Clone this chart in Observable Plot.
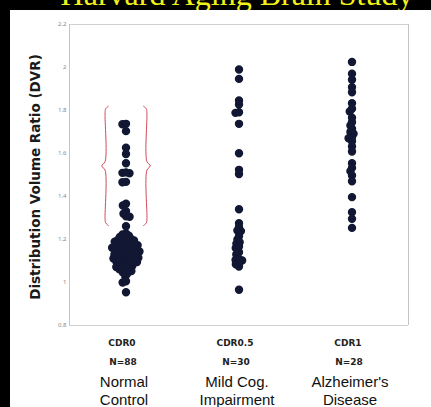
<!DOCTYPE html>
<html><head><meta charset="utf-8">
<script src="https://cdn.jsdelivr.net/npm/d3@7"></script>
<script src="https://cdn.jsdelivr.net/npm/@observablehq/plot@0.6"></script>
<style>
html,body{margin:0;padding:0;background:#000;width:431px;height:407px;overflow:hidden;}
#title{position:absolute;left:0;width:474px;text-align:center;top:-22px;font-family:"Liberation Serif",serif;font-size:32px;line-height:32px;color:#f2f21a;white-space:nowrap;}
#panel{position:absolute;left:10px;top:10px;width:421px;height:397px;background:#fff;}
#chart{position:absolute;left:0;top:0;}
</style></head><body>
<div id="title">Harvard Aging Brain Study</div>
<div id="panel"></div>
<div id="chart"></div>
<script>
const groups = ["CDR0", "CDR0.5", "CDR1"];
const nLabels = ["N=88", "N=30", "N=28"];
const names = ["Normal\nControl", "Mild Cog.\nImpairment", "Alzheimer's\nDisease"];
const yTicks = [0.8, 1, 1.2, 1.4, 1.6, 1.8, 2, 2.2];
const yTitle = "Distribution Volume Ratio (DVR)";

// CDR0 (N=88)
const cdr0 = [
  1.738, 1.736, 1.704, 1.627, 1.598, 1.555, 1.512, 1.510, 1.508, 1.468, 1.466,
  1.366, 1.358, 1.332, 1.320, 1.308, 1.306, 1.262,
  1.228, 1.223, 1.218, 1.212, 1.207, 1.204, 1.201, 1.198, 1.196,
  1.193, 1.190, 1.187, 1.185, 1.182, 1.180, 1.177, 1.175,
  1.173, 1.170, 1.168, 1.166, 1.164, 1.162, 1.159, 1.157, 1.155,
  1.153, 1.150, 1.148, 1.146, 1.144, 1.142, 1.139, 1.137, 1.135,
  1.132, 1.130, 1.127, 1.125, 1.122, 1.120, 1.118, 1.116, 1.115,
  1.112, 1.109, 1.107, 1.104, 1.102, 1.099, 1.097, 1.095,
  1.092, 1.088, 1.085, 1.082, 1.078, 1.075, 1.072, 1.068, 1.065,
  1.062, 1.057, 1.053, 1.048, 1.042, 1.028,
  1.006, 1.000, 0.955
];
// CDR0.5 (N=30)
const cdr05 = [
  1.991, 1.947, 1.847, 1.828, 1.792, 1.789, 1.738, 1.601, 1.524, 1.505,
  1.341, 1.276, 1.257, 1.242, 1.239, 1.215, 1.200, 1.187, 1.180, 1.167,
  1.160, 1.141, 1.130, 1.110, 1.105, 1.102, 1.093, 1.085, 1.074, 0.966
];
// CDR1 (N=28)
const cdr1 = [
  2.026, 1.971, 1.943, 1.908, 1.885, 1.834, 1.808, 1.795, 1.766, 1.745,
  1.730, 1.715, 1.700, 1.692, 1.676, 1.671, 1.657, 1.633, 1.609, 1.555,
  1.533, 1.518, 1.498, 1.471, 1.397, 1.327, 1.296, 1.254
];
// bracket annotation around the upper CDR0 points
const bracketGroup = "CDR0";
const bracketRange = [1.265, 1.82];

const points = [
  ...cdr0.map(v => ({group: groups[0], value: v})),
  ...cdr05.map(v => ({group: groups[1], value: v})),
  ...cdr1.map(v => ({group: groups[2], value: v}))
];
const labels = groups.map((g, i) => ({group: g, n: nLabels[i], name: names[i]}));

// brace shapes (x in facet-relative units [-1, 1])
const [bLo, bHi] = bracketRange;
const bMid = (bLo + bHi) / 2;
const brace = [];
for (const side of [-1, 1]) {
  const x0 = side * 0.37;
  [[x0 - side * 0.06, bHi], [x0 - side * 0.01, bHi - 0.012], [x0, bHi - 0.03],
   [x0, bMid + 0.02], [x0 + side * 0.06, bMid], [x0, bMid - 0.02],
   [x0, bLo + 0.03], [x0 - side * 0.01, bLo + 0.012], [x0 - side * 0.06, bLo]]
    .forEach(([x, y]) => brace.push({group: bracketGroup, side, x, y}));
}

const chart = Plot.plot({
  width: 431, height: 407,
  marginLeft: 69, marginRight: 23, marginTop: 24, marginBottom: 82,
  style: {background: "transparent", overflow: "visible"},
  fx: {domain: groups, padding: 0, axis: null},
  x: {domain: [-1, 1], axis: null},
  y: {domain: [0.8, 2.2], axis: null},
  marks: [
    Plot.ruleY([0.8, 2.2], {stroke: "#d0d0d0"}),
    Plot.ruleX([{g: groups[0], e: -1}, {g: groups[2], e: 1}], {fx: "g", x: "e", stroke: "#c4c4c4"}),
    Plot.axisY(yTicks, {facetAnchor: "left", tickSize: 0, tickPadding: 3, fontSize: 6, color: "#888", tickFormat: d => String(d), label: null}),
    Plot.text([{g: groups[0], t: yTitle}], {fx: "g", text: "t", frameAnchor: "left", textAnchor: "middle", lineAnchor: "middle", rotate: -90, dx: -34, dy: 2, fontWeight: "bold", fontSize: 13.5, fontFamily: "DejaVu Sans", fill: "#1a1a1a"}),
    Plot.line(brace, {fx: "group", x: "x", y: "y", z: "side", stroke: "#d04a58", strokeWidth: 1, curve: "catmull-rom"}),
    Plot.dot(points, Plot.dodgeX({anchor: "middle", padding: 0}, {fx: "group", y: "value", r: 1.8, fill: "#0d1020", stroke: "#121833", strokeWidth: 4.8})),
    Plot.text(labels, {fx: "group", text: "group", frameAnchor: "bottom", lineAnchor: "middle", dy: 18, dx: -4, fontWeight: "bold", fontSize: 9, fontFamily: "DejaVu Sans", fill: "#222"}),
    Plot.text(labels, {fx: "group", text: "n", frameAnchor: "bottom", lineAnchor: "middle", dy: 37, dx: -3, fontWeight: "bold", fontSize: 9, fontFamily: "DejaVu Sans", fill: "#222"}),
    Plot.text(labels, {fx: "group", text: "name", frameAnchor: "bottom", lineAnchor: "middle", dy: 65, dx: -2, fontSize: 15, lineHeight: 1.2, fontFamily: "Liberation Sans", fill: "#111"})
  ]
});
document.getElementById("chart").appendChild(chart);
</script></body></html>
